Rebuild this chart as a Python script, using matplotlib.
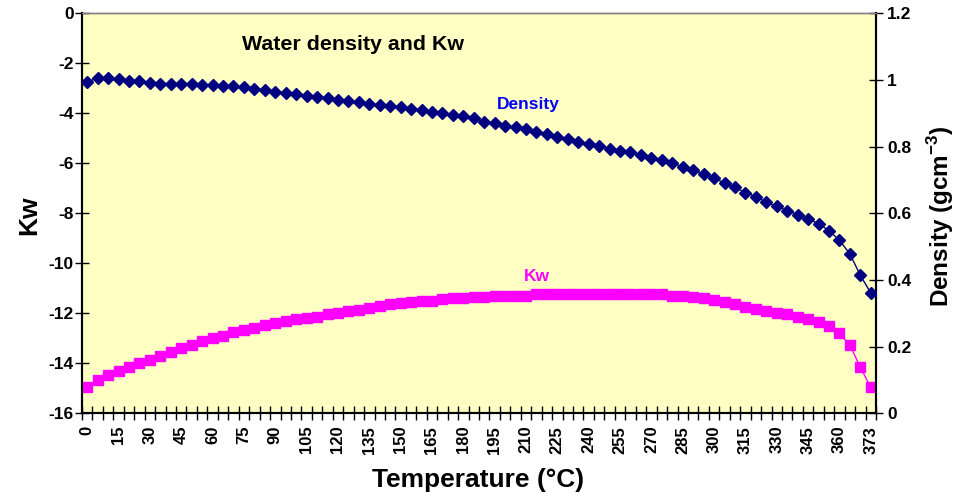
import numpy as np
import matplotlib
matplotlib.use("Agg")
import matplotlib.pyplot as plt

plt.rcParams['font.family'] = ['Liberation Sans', 'DejaVu Sans']
plt.rcParams['font.weight'] = 'bold'
plt.rcParams['axes.unicode_minus'] = False
plt.rcParams['mathtext.fontset'] = 'custom'
plt.rcParams['mathtext.rm'] = 'Liberation Sans:bold'
plt.rcParams['mathtext.bf'] = 'Liberation Sans:bold'

# temperature categories (degC)
temps = list(range(0, 371, 5)) + [373]

# saturated water density, g/cm3
density = [0.995, 1.005, 1.005, 1.002, 0.997, 0.997, 0.991, 0.989, 0.989, 0.989,
           0.989, 0.984, 0.984, 0.981, 0.981, 0.978, 0.973, 0.970, 0.965,
           0.960, 0.957, 0.953, 0.949, 0.946, 0.941, 0.937, 0.933, 0.928, 0.925,
           0.922, 0.919, 0.914, 0.909, 0.904, 0.900, 0.896, 0.891, 0.885,
           0.875, 0.870, 0.863, 0.858, 0.853, 0.844, 0.837, 0.829, 0.823, 0.815,
           0.808, 0.803, 0.794, 0.787, 0.783, 0.776, 0.766, 0.759, 0.752,
           0.738, 0.730, 0.718, 0.707, 0.690, 0.678, 0.662, 0.650, 0.633, 0.621,
           0.608, 0.596, 0.583, 0.569, 0.548, 0.519, 0.478, 0.414, 0.361]

# log Kw
kw = [-14.96, -14.68, -14.47, -14.30, -14.14, -13.98, -13.87, -13.71, -13.55, -13.39,
      -13.28, -13.11, -13.00, -12.90, -12.76, -12.67, -12.58, -12.47, -12.40, -12.30,
      -12.24, -12.20, -12.14, -12.04, -11.98, -11.92, -11.87, -11.80, -11.71, -11.64,
      -11.60, -11.55, -11.51, -11.50, -11.44, -11.40, -11.40, -11.34,
      -11.34, -11.30, -11.30, -11.30, -11.30,
      -11.23, -11.23, -11.23, -11.23, -11.23, -11.23, -11.23, -11.23, -11.23, -11.23,
      -11.23, -11.23, -11.23,
      -11.30, -11.30, -11.36, -11.40, -11.47, -11.56, -11.63, -11.74, -11.83, -11.90,
      -12.00, -12.04, -12.14, -12.24, -12.36, -12.51, -12.80, -13.27, -14.16, -14.96]

x = np.arange(len(temps))

fig = plt.figure(figsize=(9.58, 4.97), dpi=100)
ax = fig.add_axes([82/958, 1 - 413.3/497, 794/958, 400/497])
ax.set_facecolor('#FFFFC4')
ax2 = ax.twinx()

ax.plot(x, kw, color='#FF00FF', marker='s', markersize=7, linewidth=1, zorder=3)
ax2.plot(x, density, color='#000080', marker='D', markersize=6, linewidth=1, zorder=3)

ax.set_xlim(-0.5, len(temps) - 0.5)
ax.set_ylim(-16, 0)
ax.set_yticks(np.arange(-16, 1, 2))
ax2.set_ylim(0, 1.2)
ax2.set_yticks([0, 0.2, 0.4, 0.6, 0.8, 1, 1.2])
ax2.set_yticklabels(['0', '0.2', '0.4', '0.6', '0.8', '1', '1.2'])

# labels on every third category, tick marks on category boundaries
lab_idx = list(range(0, len(temps), 3))
ax.set_xticks(lab_idx)
ax.set_xticklabels([str(temps[i]) for i in lab_idx], rotation=90)
ax.set_xticks(np.arange(-0.5, len(temps), 1), minor=True)
ax.tick_params(axis='x', which='major', length=0, pad=9, labelsize=12)
ax.tick_params(axis='x', which='minor', direction='inout', length=10, width=1)
ax.tick_params(axis='y', direction='inout', length=10, width=1, labelsize=12.5, pad=1)
ax2.tick_params(axis='y', direction='inout', length=10, width=1, labelsize=12.5, pad=3)

for a in (ax, ax2):
    for side in ('left', 'right', 'bottom'):
        a.spines[side].set_linewidth(1.5)
        a.spines[side].set_color('black')
    a.spines['top'].set_color('#808080')
    a.spines['top'].set_linewidth(1)

ax.text(0.2015, 0.921, 'Water density and Kw', transform=ax.transAxes,
        fontsize=15.4, va='center', ha='left', color='black')
ax.text(0.5227, 0.771, 'Density', transform=ax.transAxes,
        fontsize=12.5, va='center', ha='left', color='#0000FF')
ax.text(0.5567, 0.341, 'Kw', transform=ax.transAxes,
        fontsize=12.5, va='center', ha='left', color='#FF00FF')

fig.text(0.031, 0.567, 'Kw', rotation=90, fontsize=19, ha='center', va='center')
fig.text(0.499, 0.034, 'Temperature (°C)', fontsize=19, ha='center', va='center')
fig.text(0.982, 0.565, r'Density (gcm$^{-3}$)', rotation=90, fontsize=17.5,
         ha='center', va='center')

fig.savefig('out.png', dpi=100)
